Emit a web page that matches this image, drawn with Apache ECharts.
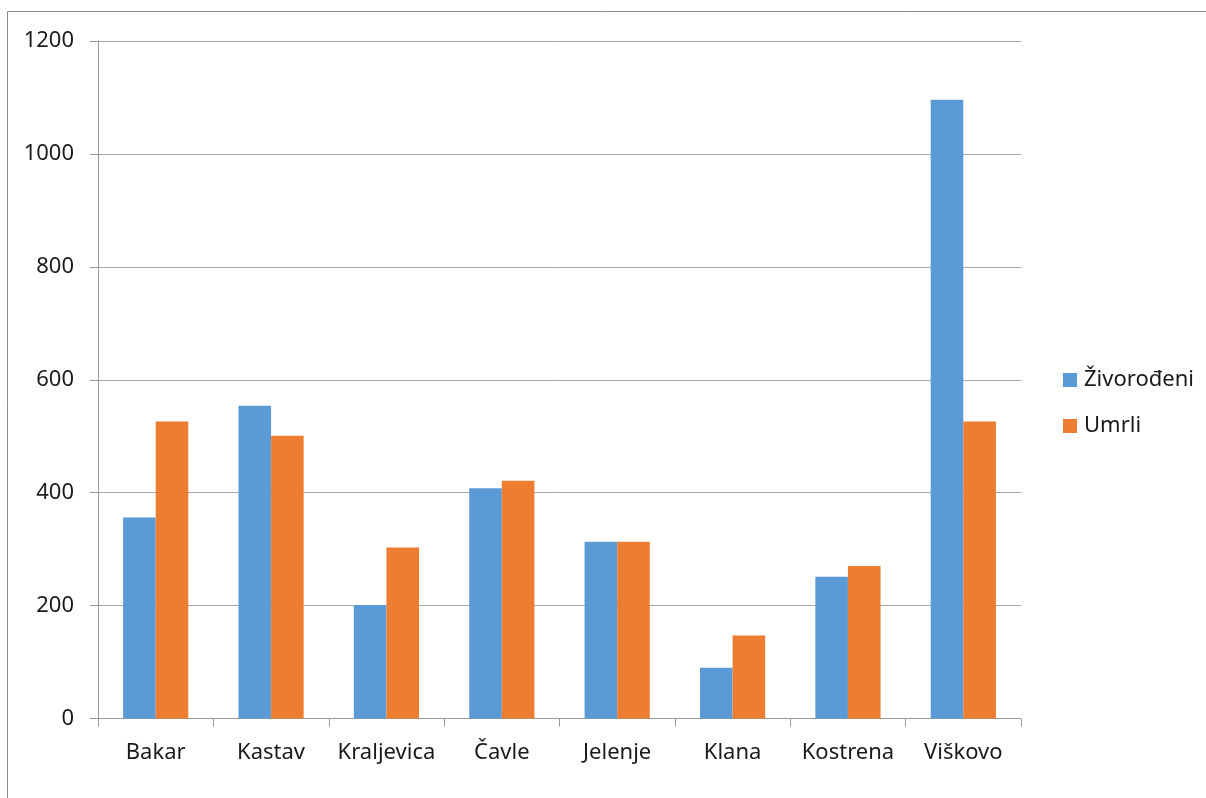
<!DOCTYPE html>
<html>
<head>
<meta charset="utf-8">
<style>
  html, body { margin: 0; padding: 0; background: #fff; }
  #container { width: 1206px; height: 798px; }
</style>
<script src="https://cdn.jsdelivr.net/npm/echarts@6/dist/echarts.min.js"></script>
</head>
<body>
<div id="container"></div>
<script>
var categories = ['Bakar', 'Kastav', 'Kraljevica', 'Čavle', 'Jelenje', 'Klana', 'Kostrena', 'Viškovo'];
var zivorodeni = [356, 554, 201, 408, 313, 90, 251, 1096];
var umrli = [526, 501, 303, 421, 313, 147, 270, 526];

var dom = document.getElementById('container');
var myChart = echarts.init(dom, null, { renderer: 'canvas' });

var font = 'Noto Sans';
var option = {
    backgroundColor: '#ffffff',
    animation: false,
    textStyle: { fontFamily: font },
    graphic: [{
        type: 'rect',
        shape: { x: 7.5, y: 11.5, width: 1300, height: 900 },
        style: { fill: 'none', stroke: '#8c8c8c', lineWidth: 1 },
        silent: true
    }],
    grid: { left: 98, right: 185, top: 41, bottom: 79.5 },
    legend: {
        orient: 'vertical',
        left: 1058,
        top: 364,
        icon: 'rect',
        itemWidth: 14,
        itemHeight: 14,
        itemGap: 24,
        textStyle: { fontFamily: font, fontSize: 22, color: '#1a1a1a', padding: [0, 0, 0, 2] },
        data: ['Živorođeni', 'Umrli']
    },
    xAxis: {
        type: 'category',
        data: categories,
        axisLine: { lineStyle: { color: '#9a9a9a', width: 1 } },
        axisTick: { show: true, length: 8, interval: 0, lineStyle: { color: '#9a9a9a' } },
        axisLabel: { fontFamily: font, fontSize: 22, color: '#1a1a1a', margin: 23, interval: 0 }
    },
    yAxis: {
        type: 'value',
        min: 0,
        max: 1200,
        interval: 200,
        axisLine: { show: true, lineStyle: { color: '#9a9a9a', width: 1 } },
        axisTick: { show: true, length: 8, lineStyle: { color: '#9a9a9a' } },
        splitLine: { lineStyle: { color: '#a6a6a6', width: 1 } },
        axisLabel: {
            fontFamily: font, fontSize: 22, color: '#1a1a1a', margin: 24,
            formatter: function (v) { return String(v); }
        }
    },
    series: [
        {
            name: 'Živorođeni',
            type: 'bar',
            data: zivorodeni,
            barGap: '0%',
            barCategoryGap: '43.5%',
            itemStyle: { color: '#5b9bd5' }
        },
        {
            name: 'Umrli',
            type: 'bar',
            data: umrli,
            barGap: '0%',
            barCategoryGap: '43.5%',
            itemStyle: { color: '#ed7d31' }
        }
    ]
};

myChart.setOption(option);
window.addEventListener('resize', myChart.resize);
</script>
</body>
</html>
